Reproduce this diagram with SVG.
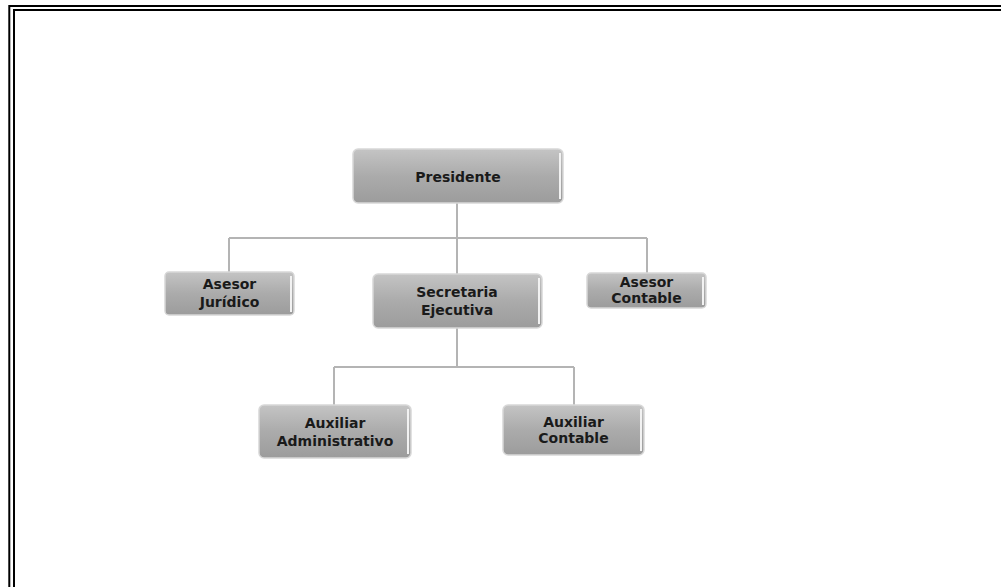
<svg xmlns="http://www.w3.org/2000/svg" width="1001" height="587" viewBox="0 0 1001 587">
<defs>
<linearGradient id="g" x1="0" y1="0" x2="0" y2="1">
<stop offset="0" stop-color="#c4c4c4"/>
<stop offset="0.5" stop-color="#ababab"/>
<stop offset="1" stop-color="#9c9c9c"/>
</linearGradient>
<linearGradient id="hl" x1="0" y1="0" x2="0" y2="1">
<stop offset="0" stop-color="#ffffff" stop-opacity="0.9"/>
<stop offset="1" stop-color="#ffffff" stop-opacity="0"/>
</linearGradient>
<style>
.box{fill:url(#g);stroke:#d8d8d8;stroke-width:1.5}
.bev{fill:none;stroke:url(#hl);stroke-width:3}
.bevr{fill:none;stroke:#f2f2f2;stroke-width:2}
.t{font-family:"DejaVu Sans",sans-serif;font-weight:bold;font-size:14px;fill:#1a1a1a;text-anchor:middle}
.c{fill:none;stroke:#b4b4b4;stroke-width:2}
.fr{fill:none;stroke:#000;stroke-width:2}
</style>
</defs>
<rect width="1001" height="587" fill="#fff"/>
<g id="frame">
<polyline class="fr" points="9.3,590 9.3,6 1005,6"/>
<polyline class="fr" points="14,590 14,10 1005,10"/>
</g>
<g id="connectors">
<path class="c" d="M457,203 V238 M229,238 H647 M229,238 V272 M647,238 V273 M457,238 V274"/>
<path class="c" d="M457,328 V367 M334,367 H574 M334,367 V405 M574,367 V405"/>
</g>
<g id="presidente">
<rect class="box" x="353" y="149" width="210" height="54" rx="5"/>
<path class="bev" d="M356,152 H560"/>
<path class="bevr" d="M560,153 V199"/>
<text class="t" x="458" y="182">Presidente</text>
</g>
<g id="asesor-juridico">
<rect class="box" x="165" y="272" width="129" height="43" rx="4"/>
<path class="bev" d="M168,275 H291"/>
<path class="bevr" d="M291,276 V312"/>
<text class="t" x="229.5" y="289">Asesor</text>
<text class="t" x="229.5" y="307">Jurídico</text>
</g>
<g id="secretaria-ejecutiva">
<rect class="box" x="373" y="274" width="169" height="54" rx="5"/>
<path class="bev" d="M376,277 H539"/>
<path class="bevr" d="M539,278 V324"/>
<text class="t" x="457" y="297">Secretaria</text>
<text class="t" x="457" y="315">Ejecutiva</text>
</g>
<g id="asesor-contable">
<rect class="box" x="587" y="273" width="119" height="35" rx="4"/>
<path class="bev" d="M590,276 H703"/>
<path class="bevr" d="M703,277 V305"/>
<text class="t" x="646.5" y="287">Asesor</text>
<text class="t" x="646.5" y="303">Contable</text>
</g>
<g id="auxiliar-administrativo">
<rect class="box" x="259" y="405" width="152" height="53" rx="5"/>
<path class="bev" d="M262,408 H408"/>
<path class="bevr" d="M408,409 V454"/>
<text class="t" x="335" y="428">Auxiliar</text>
<text class="t" x="335" y="446">Administrativo</text>
</g>
<g id="auxiliar-contable">
<rect class="box" x="503" y="405" width="141" height="50" rx="5"/>
<path class="bev" d="M506,408 H641"/>
<path class="bevr" d="M641,409 V451"/>
<text class="t" x="573.5" y="427">Auxiliar</text>
<text class="t" x="573.5" y="443">Contable</text>
</g>
</svg>
